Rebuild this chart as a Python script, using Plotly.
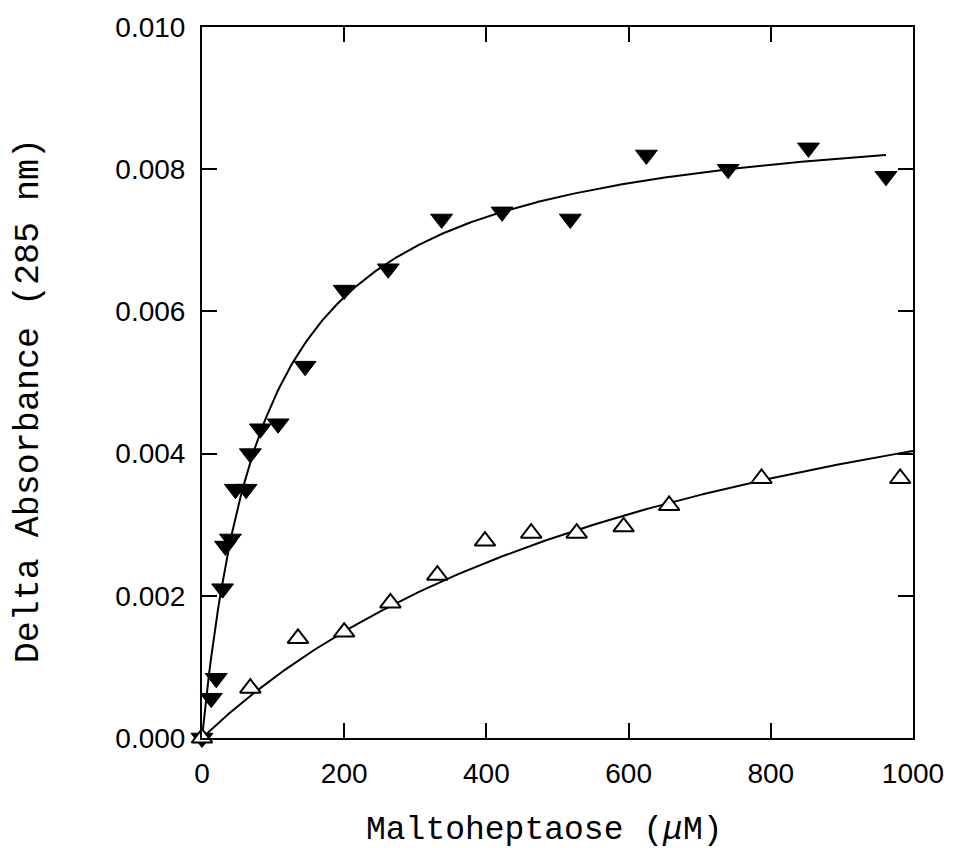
import numpy as np
import plotly.graph_objects as go

# Filled down-triangles (upper series)
x_filled = [0, 13, 20, 29, 33, 40, 47, 62, 68, 82, 107, 145, 200, 262, 337, 422, 518, 625, 740, 853, 962]
y_filled = [0.0000, 0.00056, 0.00084, 0.0021, 0.0027, 0.0028, 0.0035, 0.0035, 0.0040, 0.00435, 0.00442,
            0.00523, 0.0063, 0.0066, 0.0073, 0.0074, 0.0073, 0.0082, 0.0080, 0.0083, 0.0079]

# Open up-triangles (lower series)
x_open = [0, 68, 135, 200, 265, 331, 398, 463, 527, 593, 657, 787, 982]
y_open = [0.0000, 0.0007, 0.0014, 0.00149, 0.0019, 0.00229, 0.00277, 0.00288, 0.00288, 0.00297,
          0.00327, 0.00365, 0.00365]

# Hyperbolic fit parameters
fit_filled = {"bmax": 0.00896, "kd": 89.0, "xmax": 962}
fit_open = {"bmax": 0.00701, "kd": 736.0, "xmax": 1000}

x_ticks = [0, 200, 400, 600, 800, 1000]
y_ticks = [0.000, 0.002, 0.004, 0.006, 0.008, 0.010]
y_tick_text = ["0.000", "0.002", "0.004", "0.006", "0.008", "0.010"]

x_title = "Maltoheptaose (<i>μ</i>M)"
y_title = "Delta Absorbance (285 nm)"


def curve(p):
    xs = np.linspace(0, p["xmax"], 300)
    return xs, p["bmax"] * xs / (p["kd"] + xs)


fig = go.Figure()

xf, yf = curve(fit_filled)
fig.add_trace(go.Scatter(x=xf, y=yf, mode="lines", line=dict(color="black", width=2), hoverinfo="skip"))
xo, yo = curve(fit_open)
fig.add_trace(go.Scatter(x=xo, y=yo, mode="lines", line=dict(color="black", width=2), hoverinfo="skip"))

fig.add_trace(go.Scatter(
    x=x_filled, y=y_filled, mode="markers", cliponaxis=False,
    marker=dict(symbol="triangle-down", size=19, color="black", line=dict(color="black", width=1)),
))
fig.add_trace(go.Scatter(
    x=x_open, y=y_open, mode="markers", cliponaxis=False,
    marker=dict(symbol="triangle-up", size=18, color="white", line=dict(color="black", width=2)),
))

axis_common = dict(
    showgrid=False, zeroline=False, showline=True, linecolor="black", linewidth=2,
    mirror="ticks", ticks="inside", ticklen=15, tickwidth=2, tickcolor="black",
    tickfont=dict(family="Liberation Sans, Arial, sans-serif", size=28, color="black"),
)

fig.update_xaxes(range=[0, 1000], tickvals=x_ticks, ticklabelstandoff=9, **axis_common)
fig.update_yaxes(range=[0, 0.010], tickvals=y_ticks, ticktext=y_tick_text, ticklabelstandoff=9, **axis_common)

fig.add_annotation(text=x_title, xref="paper", yref="paper", x=(546 - 202) / 716, y=-(831 - 738) / 713,
                   xanchor="center", yanchor="middle", showarrow=False,
                   font=dict(family="Liberation Mono, Courier New, monospace", size=33, color="black"))
fig.add_annotation(text=y_title, xref="paper", yref="paper", x=-(202 - 28) / 716, y=(738 - 400) / 713,
                   xanchor="center", yanchor="middle", showarrow=False, textangle=-90,
                   font=dict(family="Liberation Mono, Courier New, monospace", size=35, color="black"))

fig.update_layout(
    width=956, height=848,
    margin=dict(l=202, r=37, t=25, b=110),
    plot_bgcolor="white", paper_bgcolor="white",
    showlegend=False,
)

fig.write_html("out.html", config={"displayModeBar": False},
               post_script="document.body.style.margin='0';")
